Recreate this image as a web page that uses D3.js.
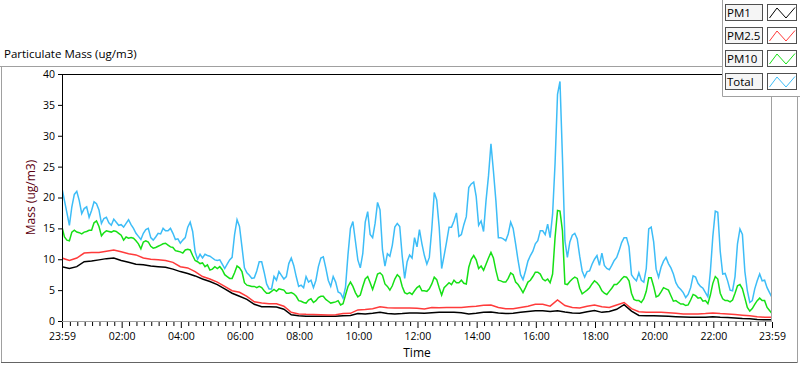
<!DOCTYPE html>
<html><head><meta charset="utf-8">
<script src="https://cdn.jsdelivr.net/npm/d3@7"></script>
<style>
body{margin:0;background:#fff;}
svg{display:block;font-family:"Open Sans",sans-serif;}
</style>
</head><body>
<svg id="chart" width="800" height="365"></svg>
<script>
// ---------- data ----------
const seriesNames = ["PM1", "PM2.5", "PM10", "Total"];
const seriesColors = ["#000000", "#ff3b3b", "#16e016", "#3dbdf7"];
const startTime = new Date(2021, 0, 1, 23, 59);
const endTime = new Date(2021, 0, 2, 23, 59);
const stepTotalPM10 = 5;   // minutes between samples
const stepPM1PM25 = 15;    // minutes between samples

const totalValues = [
 21.5,19.5,17.5,15.5,18.5,20.5,21,19.5,17.4,18.2,
 18.5,16.8,17.9,19.3,19,18,15.8,16.6,16.8,15.9,
 15.5,16.5,16,15.5,15.6,15.2,15.8,16.4,15.6,15,
 14.2,13.7,13.2,14.2,14.8,15,13.5,13.1,13.6,14.2,
 14.1,15,14.6,14.6,15,14.2,13.2,13.3,12.6,13.1,
 13.5,15.2,16,14.5,11.2,10,10.8,10.2,10.8,10.6,
 10.5,10.2,9.9,9.8,9.9,9.2,8.5,9.2,9.9,10.3,
 14,16.4,15.3,
 12,8.6,7.8,7.4,6.9,7.0,8.1,9.6,9.6,7.9,
 6.0,5.2,5.2,7.2,6.6,8.0,7.4,6.8,7.2,9.3,
 10.2,9.0,7.2,5.6,5.8,5.4,7.2,6.3,6.6,5.4,
 6.6,8.8,10.2,10.4,8.6,6.6,5.6,7.2,6.3,4.7,
 4.5,3.7,5.5,10.7,15,16.1,13,9.9,8.6,10.9,
 16,17.7,14,13.5,15.8,19.2,18,11.5,8.9,10.9,
 10.5,12.3,15.2,15.8,15.3,10.5,6.9,9.6,10.7,10.2,
 13.5,12,
 14.8,12.5,10.6,9.2,10.3,14.9,20.8,19.6,15.2,8.5,
 10.6,12.8,15.2,15.2,16.2,17.5,13.7,14.0,15.6,16.9,
 21.6,22.2,22.5,20.2,15.5,16.2,14.5,19.5,23.5,28.7,
 24.3,19.5,13.5,13.5,13.3,13.0,14.1,16.0,15.0,12.5,
 9.8,7.5,6.7,8.1,9.7,10.6,11.3,12.5,13.0,14.6,
 14.6,14.0,15.7,13.5,17.3,25.5,36.7,38.8,26.5,13.0,
 10.3,12.8,13.9,14.2,13.3,10.5,8.1,7.1,8.0,8.1,
 9.2,10.0,
 10.6,9.0,11.0,9.0,8.5,8.3,9.0,9.8,10.3,11.4,
 12.7,13.5,13.5,12.0,7.5,6.9,6.5,7.8,6.6,6.3,
 8.5,14.9,15.2,12.8,8.4,7.1,8.7,9.7,10.3,9.3,
 8.6,7.6,6.2,5.5,5.1,4.6,3.8,4.3,5.4,7.3,
 7.1,6.1,5.6,5.3,4.6,3.9,8.0,13.7,17.8,17.6,
 11.3,7.6,7.7,6.5,5.0,4.9,7.2,12.5,14.9,14.0,
 8.0,4.9,3.0,3.3,5.2,6.5,7.6,6.5,6.6,5.4,
 4.6,3.8
];

const pm10Values = [
 15.2,13.6,13.1,13.0,14.4,14.7,14.4,14.3,14.1,14.4,
 14.5,14.7,14.7,15.9,16.2,15.3,13.8,14.3,14.6,14.5,
 14.4,14.6,14.5,14.2,13.9,13.1,13.6,13.4,13.5,13.4,
 13.0,12.5,11.7,12.8,13.0,12.8,12.1,11.8,11.9,12.1,
 12.3,12.5,12.6,12.3,12.0,11.9,11.4,11.3,11.2,11.0,
 11.5,11.6,11.5,10.6,9.8,9.6,9.3,9.4,8.8,9.1,
 8.25,8.4,8.8,8.5,8.8,8.3,7.5,7.2,6.9,6.9,
 7.8,8.9,8.6,
 8.0,6.2,5.8,5.7,5.6,5.6,5.4,5.6,5.4,4.9,
 4.5,4.5,4.8,5.1,4.8,5.2,5.1,5.0,4.5,4.5,
 4.6,4.4,4.0,3.3,3.2,3.0,2.9,3.4,3.6,3.0,
 3.3,3.8,4.0,4.0,3.5,3.2,2.9,3.0,3.1,3.3,
 2.6,2.8,4.2,5.6,6.3,5.6,4.6,3.9,4.2,5.6,
 6.8,7.2,6.2,5.1,6.3,7.6,7.8,7.4,6.0,5.6,
 5.0,5.7,6.8,7.5,7.1,5.6,4.6,4.4,4.6,4.3,
 4.9,5.4,
 5.7,4.9,4.9,4.8,5.2,6.0,7.1,6.7,5.4,4.2,
 5.4,5.8,6.2,5.9,6.6,6.2,6.2,6.6,6.1,6.0,
 8.7,10.0,10.6,9.9,8.5,8.9,8.2,9.2,10.2,11.1,
 10.2,8.2,6.6,6.5,6.3,6.3,6.9,7.8,7.5,6.3,
 5.9,5.3,4.6,5.4,6.3,6.6,7.2,7.9,7.9,7.6,
 6.8,6.5,6.8,6.2,7.6,13.5,17.9,17.8,14.6,6.0,
 5.9,6.4,6.8,7.1,6.9,5.3,4.4,4.7,5.0,5.4,
 6.0,6.5,
 6.2,5.7,4.9,4.5,4.3,4.8,5.3,5.9,5.9,6.3,
 6.8,7.2,7.1,6.5,4.5,3.5,3.3,3.3,3.0,3.6,
 4.8,7.0,7.0,5.6,3.9,4.1,4.7,5.4,5.2,5.0,
 4.1,3.2,3.3,3.0,2.75,2.75,2.5,2.6,3.4,4.3,
 4.1,3.7,3.8,3.2,3.3,2.8,4.2,6.1,7.2,6.8,
 4.5,3.6,3.3,3.3,3.1,3.4,4.5,5.7,5.9,5.2,
 3.7,2.2,1.6,2.0,2.7,3.3,3.7,3.3,3.3,2.2,
 1.7,1.2
];

const pm25Values = [
 10.2,9.8,10.2,11.0,11.1,11.1,11.3,11.5,11.2,10.9,10.7,10.2,10.0,9.9,9.8,9.5,8.8,8.6,8.0,7.2,6.8,6.3,5.6,4.9,4.65,
 4.0,3.1,2.9,2.8,2.8,2.4,1.4,1.15,1.08,1.05,1.0,0.97,1.03,1.2,1.24,1.8,1.85,2.0,2.3,2.15,2.1,2.1,2.1,2.05,
 1.95,2.2,2.15,2.2,2.2,2.2,2.3,2.4,2.55,2.6,2.2,2.0,2.0,2.2,2.4,2.7,2.7,2.4,3.4,2.5,2.2,2.1,2.4,2.6,
 2.3,2.2,2.6,3.0,2.0,1.5,1.4,1.4,1.4,1.35,1.25,1.15,1.15,1.15,1.2,1.3,1.2,1.15,1.05,0.95,0.85,0.7,0.6,0.6
];

const pm1Values = [
 8.8,8.5,8.8,9.6,9.7,9.9,10.1,10.2,9.8,9.5,9.2,9.1,8.9,8.8,8.7,8.4,8.0,7.7,7.3,6.8,6.4,5.9,5.2,4.5,4.0,
 3.5,2.7,2.3,2.3,2.25,1.9,1.0,0.85,0.78,0.75,0.75,0.75,0.75,0.85,0.9,1.2,1.15,1.25,1.4,1.2,1.15,1.2,1.3,1.3,
 1.25,1.35,1.4,1.4,1.4,1.35,1.15,1.25,1.4,1.45,1.3,1.2,1.25,1.4,1.55,1.65,1.65,1.55,1.65,1.45,1.3,1.25,1.5,1.7,
 1.4,1.55,1.9,2.65,1.6,0.9,0.85,0.85,0.8,0.75,0.7,0.65,0.6,0.6,0.6,0.7,0.6,0.55,0.5,0.4,0.35,0.25,0.2,0.2
];

const yTickValues = [0, 5, 10, 15, 20, 25, 30, 35, 40];
const chartTitle = "Particulate Mass (ug/m3)";
const yAxisTitle = "Mass (ug/m3)";
const xAxisTitle = "Time";

// ---------- build ----------
const svg = d3.select("#chart");
const L = 62, R = 772, T = 74, B = 321;

const x = d3.scaleTime().domain([startTime, endTime]).range([L, R]);
const y = d3.scaleLinear().domain([0, 40]).range([B, T]);

function toPoints(values, step) {
  return values.map((v, i) => ({ t: d3.timeMinute.offset(startTime, i * step), v }));
}
const series = [
  { name: "PM1", data: toPoints(pm1Values, stepPM1PM25) },
  { name: "PM2.5", data: toPoints(pm25Values, stepPM1PM25) },
  { name: "PM10", data: toPoints(pm10Values, stepTotalPM10) },
  { name: "Total", data: toPoints(totalValues, stepTotalPM10) }
];

// outer frame
const frame = svg.append("g").attr("fill", "none");
frame.append("path").attr("d", "M0,66.5H722").attr("stroke", "#a0a0a0");
frame.append("path").attr("d", "M1.5,66V363").attr("stroke", "#a0a0a0");
frame.append("path").attr("d", "M1,362.5H798").attr("stroke", "#646464");
frame.append("path").attr("d", "M797.5,96V363").attr("stroke", "#a0a0a0");

// title
svg.append("text").attr("x", 4).attr("y", 58).attr("font-size", 11.5)
  .attr("fill", "#000").text(chartTitle);

// plot background
svg.append("rect").attr("x", L).attr("y", T).attr("width", R - L).attr("height", B - T).attr("fill", "#fff");

// clip
svg.append("clipPath").attr("id", "clip").append("rect")
  .attr("x", L + 1).attr("y", T).attr("width", R - L - 1).attr("height", B - T);

const line = d3.line().x(d => x(d.t)).y(d => y(d.v));
const lines = svg.append("g").attr("clip-path", "url(#clip)");
series.forEach((s, i) => {
  lines.append("path").datum(s.data)
    .attr("fill", "none")
    .attr("stroke", seriesColors[i])
    .attr("stroke-width", 1.5)
    .attr("stroke-linejoin", "miter")
    .attr("d", line);
});

// plot frame
svg.append("path").attr("d", `M${L},${T + 0.5}H${R}`).attr("stroke", "#000").attr("fill", "none");
svg.append("path").attr("d", `M${L + 0.5},${T}V${B + 1}`).attr("stroke", "#000").attr("fill", "none");
svg.append("path").attr("d", `M${L},${B + 0.5}H${R}`).attr("stroke", "#a0a0a0").attr("fill", "none");
svg.append("path").attr("d", `M${R - 0.5},${T}V${B + 1}`).attr("stroke", "#a0a0a0").attr("fill", "none");

// y axis
const yAxis = d3.axisLeft(y).tickValues(yTickValues).tickSize(4).tickPadding(3).tickFormat(d3.format("d"));
const gy = svg.append("g").attr("transform", `translate(${L},0)`).call(yAxis);
gy.select(".domain").remove();
gy.selectAll("line").attr("stroke", "#000");
gy.selectAll("text").attr("font-size", 10.5).attr("font-family", "Open Sans").attr("fill", "#000");

// x axis major
const majors = [startTime].concat(d3.timeHour.every(2).range(d3.timeMinute.offset(startTime, 2), endTime).filter(d => d.getHours() !== 0)).concat([endTime]);
const fmt = d => (d.getHours() === 23 && d.getMinutes() === 59) ? "23:59" : d3.timeFormat("%H:%M")(d);
const xAxis = d3.axisBottom(x).tickValues(majors).tickSize(6).tickPadding(5).tickFormat(fmt);
const gx = svg.append("g").attr("transform", `translate(0,${B + 1})`).call(xAxis);
gx.select(".domain").remove();
gx.selectAll("line").attr("stroke", "#000");
gx.selectAll("text").attr("font-size", 10.5).attr("font-family", "Open Sans").attr("fill", "#000");

// x axis minor
const minors = d3.timeMinute.every(15).range(startTime, endTime)
  .filter(d => !(d.getMinutes() === 0 && d.getHours() % 2 === 0) && Math.abs(x(d) - x(startTime)) > 3 && Math.abs(x(d) - x(endTime)) > 3);
const xMinor = d3.axisBottom(x).tickValues(minors).tickSize(4).tickFormat("");
const gxm = svg.append("g").attr("transform", `translate(0,${B + 1})`).call(xMinor);
gxm.select(".domain").remove();
gxm.selectAll("line").attr("stroke", "#000");

// axis titles
svg.append("text").attr("x", (L + R) / 2).attr("y", 357).attr("text-anchor", "middle")
  .attr("font-size", 12).attr("fill", "#000").text(xAxisTitle);
svg.append("text").attr("transform", `translate(34.5,${(T + B) / 2}) rotate(-90)`)
  .attr("text-anchor", "middle").attr("font-size", 12).attr("fill", "#5c0010").text(yAxisTitle);

// legend
const lg = svg.append("g");
lg.append("rect").attr("x", 722).attr("y", -1).attr("width", 78).attr("height", 97).attr("fill", "#fff");
lg.append("path").attr("d", "M722.5,0V96.5H800").attr("stroke", "#a0a0a0").attr("fill", "none");
seriesNames.forEach((n, i) => {
  const top = 4 + i * 23;
  lg.append("rect").attr("x", 725.5).attr("y", top + 0.5).attr("width", 37).attr("height", 16)
    .attr("fill", "#f5f5f5").attr("stroke", "#505050");
  lg.append("text").attr("x", 727).attr("y", top + 13).attr("font-size", 11.5).attr("fill", "#000").text(n);
  lg.append("rect").attr("x", 767.5).attr("y", top + 0.5).attr("width", 29).attr("height", 16)
    .attr("fill", "#fff").attr("stroke", "#505050");
  lg.append("path").attr("d", `M769.5,${top + 14}L777,${top + 4}L786,${top + 14}L795,${top + 3.5}`)
    .attr("fill", "none").attr("stroke", seriesColors[i]).attr("stroke-width", 1);
});
</script>
</body></html>
